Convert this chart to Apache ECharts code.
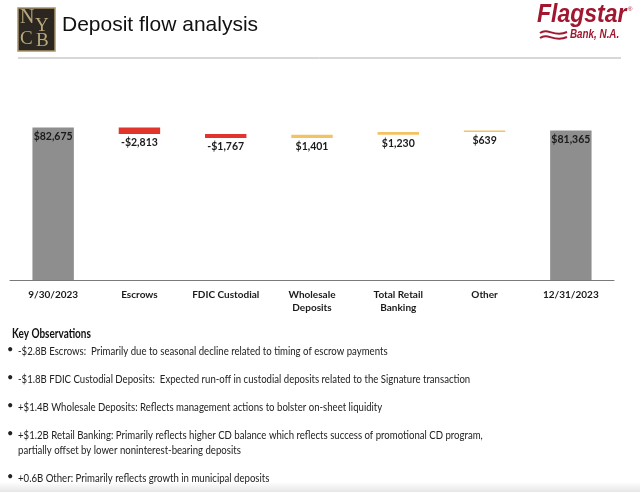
<!DOCTYPE html>
<html>
<head>
<meta charset="utf-8">
<script src="https://cdn.jsdelivr.net/npm/echarts@6/dist/echarts.min.js"></script>
<style>
  html, body { margin: 0; padding: 0; background: #fff; }
  #chart { width: 640px; height: 492px; }
</style>
</head>
<body>
<div id="chart"></div>
<script>
// data ($ millions)
var categories = ['9/30/2023', 'Escrows', 'FDIC Custodial', 'Wholesale\nDeposits', 'Total Retail\nBanking', 'Other', '12/31/2023'];
var startTotal = 82675;
var changes = [-2813, -1767, 1401, 1230, 639];
var endTotal = 81365;

var notes = [
  '-$2.8B Escrows:  Primarily due to seasonal decline related to timing of escrow payments',
  '-$1.8B FDIC Custodial Deposits:  Expected run-off in custodial deposits related to the Signature transaction',
  '+$1.4B Wholesale Deposits: Reflects management actions to bolster on-sheet liquidity',
  '+$1.2B Retail Banking: Primarily reflects higher CD balance which reflects success of promotional CD program,\npartially offset by lower noninterest-bearing deposits',
  '+0.6B Other: Primarily reflects growth in municipal deposits'
];

var GRAY = '#8e8e8e', RED = '#e0342c', GOLD = '#f3c263';

function money(v) {
  var s = '$' + Math.abs(v).toLocaleString('en-US');
  return v < 0 ? '-' + s : s;
}

// build waterfall: hidden base + visible piece
var baseData = [0];
var pieceData = [{ value: startTotal, itemStyle: { color: GRAY },
  label: { position: 'insideTop', distance: 4, formatter: money(startTotal) } }];
var running = startTotal;
changes.forEach(function (c) {
  var next = running + c;
  baseData.push(Math.min(running, next));
  pieceData.push({ value: Math.abs(c), itemStyle: { color: c < 0 ? RED : GOLD },
    label: { position: 'bottom', distance: 3, formatter: money(c) } });
  running = next;
});
baseData.push(0);
pieceData.push({ value: endTotal, itemStyle: { color: GRAY },
  label: { position: 'insideTop', distance: 4, formatter: money(endTotal) } });

var wave = function (y) {
  return { type: 'bezierCurve',
    shape: { x1: 540, y1: y, cpx1: 548, cpy1: y - 6, cpx2: 554, cpy2: y + 5, x2: 567, y2: y - 1 },
    style: { fill: null, stroke: '#a0172f', lineWidth: 2 } };
};

var gold = '#b9a77c';
var graphics = [
  // faint shading at the foot of the slide
  { type: 'rect', shape: { x: 0, y: 482, width: 640, height: 10 }, z: -1,
    style: { fill: new echarts.graphic.LinearGradient(0, 0, 0, 1,
      [{ offset: 0, color: '#ffffff' }, { offset: 1, color: '#e6e6e6' }]) } },
  // NYCB logo
  { type: 'rect', shape: { x: 18, y: 8, width: 37, height: 43 },
    style: { fill: '#2b2720', stroke: '#a8946a', lineWidth: 1.5 } },
  { type: 'text', x: 20, y: 8, style: { text: 'N', fill: gold, font: '20px "Liberation Serif"' } },
  { type: 'text', x: 35, y: 17, style: { text: 'Y', fill: gold, font: '19px "Liberation Serif"' } },
  { type: 'text', x: 20, y: 30, style: { text: 'C', fill: gold, font: '19px "Liberation Serif"' } },
  { type: 'text', x: 36, y: 32, style: { text: 'B', fill: gold, font: '19px "Liberation Serif"' } },
  // title
  { type: 'text', x: 62, y: 15, style: { text: 'Deposit flow analysis', fill: '#111',
    font: '21px "Liberation Sans"' } },
  // Flagstar logo
  { type: 'text', x: 537, y: 3, scaleX: 0.92, style: { text: 'Flagstar', fill: '#a0172f',
    font: 'italic bold 25px "Liberation Sans"' } },
  { type: 'text', x: 628, y: 6, style: { text: '®', fill: '#a0172f', font: '6px "Liberation Sans"' } },
  { type: 'text', x: 570, y: 29, scaleX: 0.82, style: { text: 'Bank, N.A.', fill: '#a0172f',
    font: 'italic bold 12px "Liberation Sans"' } },
  wave(33),
  wave(38),
  // rule
  { type: 'line', shape: { x1: 18, y1: 58, x2: 621, y2: 58 }, style: { stroke: '#b0b0b0', lineWidth: 1 } },
  // key observations
  { type: 'text', x: 12, y: 327, scaleX: 0.8, style: { text: 'Key Observations', fill: '#111',
    font: 'bold 12.5px Lato' } }
];

var noteTops = [344, 372, 400, 428, 471];
notes.forEach(function (t, i) {
  graphics.push({ type: 'text', x: 7, y: noteTops[i], style: { text: '•', fill: '#222', font: '11px Lato' } });
  graphics.push({ type: 'text', x: 18, y: noteTops[i], scaleX: 0.8, style: { text: t, fill: '#222',
    font: '12px Lato', lineHeight: 14.5 } });
});

var chart = echarts.init(document.getElementById('chart'));
chart.setOption({
  animation: false,
  backgroundColor: '#fff',
  textStyle: { fontFamily: 'Lato' },
  grid: { left: 10, right: 26, top: 88, bottom: 212, containLabel: false },
  xAxis: {
    type: 'category',
    data: categories,
    axisLine: { lineStyle: { color: '#7a7a7a', width: 1 } },
    axisTick: { show: false },
    axisLabel: { interval: 0, color: '#1a1a1a', fontWeight: 'bold', fontSize: 10,
      lineHeight: 13, margin: 8 }
  },
  yAxis: { type: 'value', min: 16000, max: 100000, show: false, splitLine: { show: false } },
  series: [
    { type: 'bar', stack: 'w', data: baseData, barWidth: '48%', silent: true,
      itemStyle: { color: 'transparent' } },
    { type: 'bar', stack: 'w', data: pieceData, barWidth: '48%',
      label: { show: true, color: '#1a1a1a', fontWeight: 'bold', fontSize: 10.5 } }
  ],
  graphic: graphics
});
</script>
</body>
</html>
